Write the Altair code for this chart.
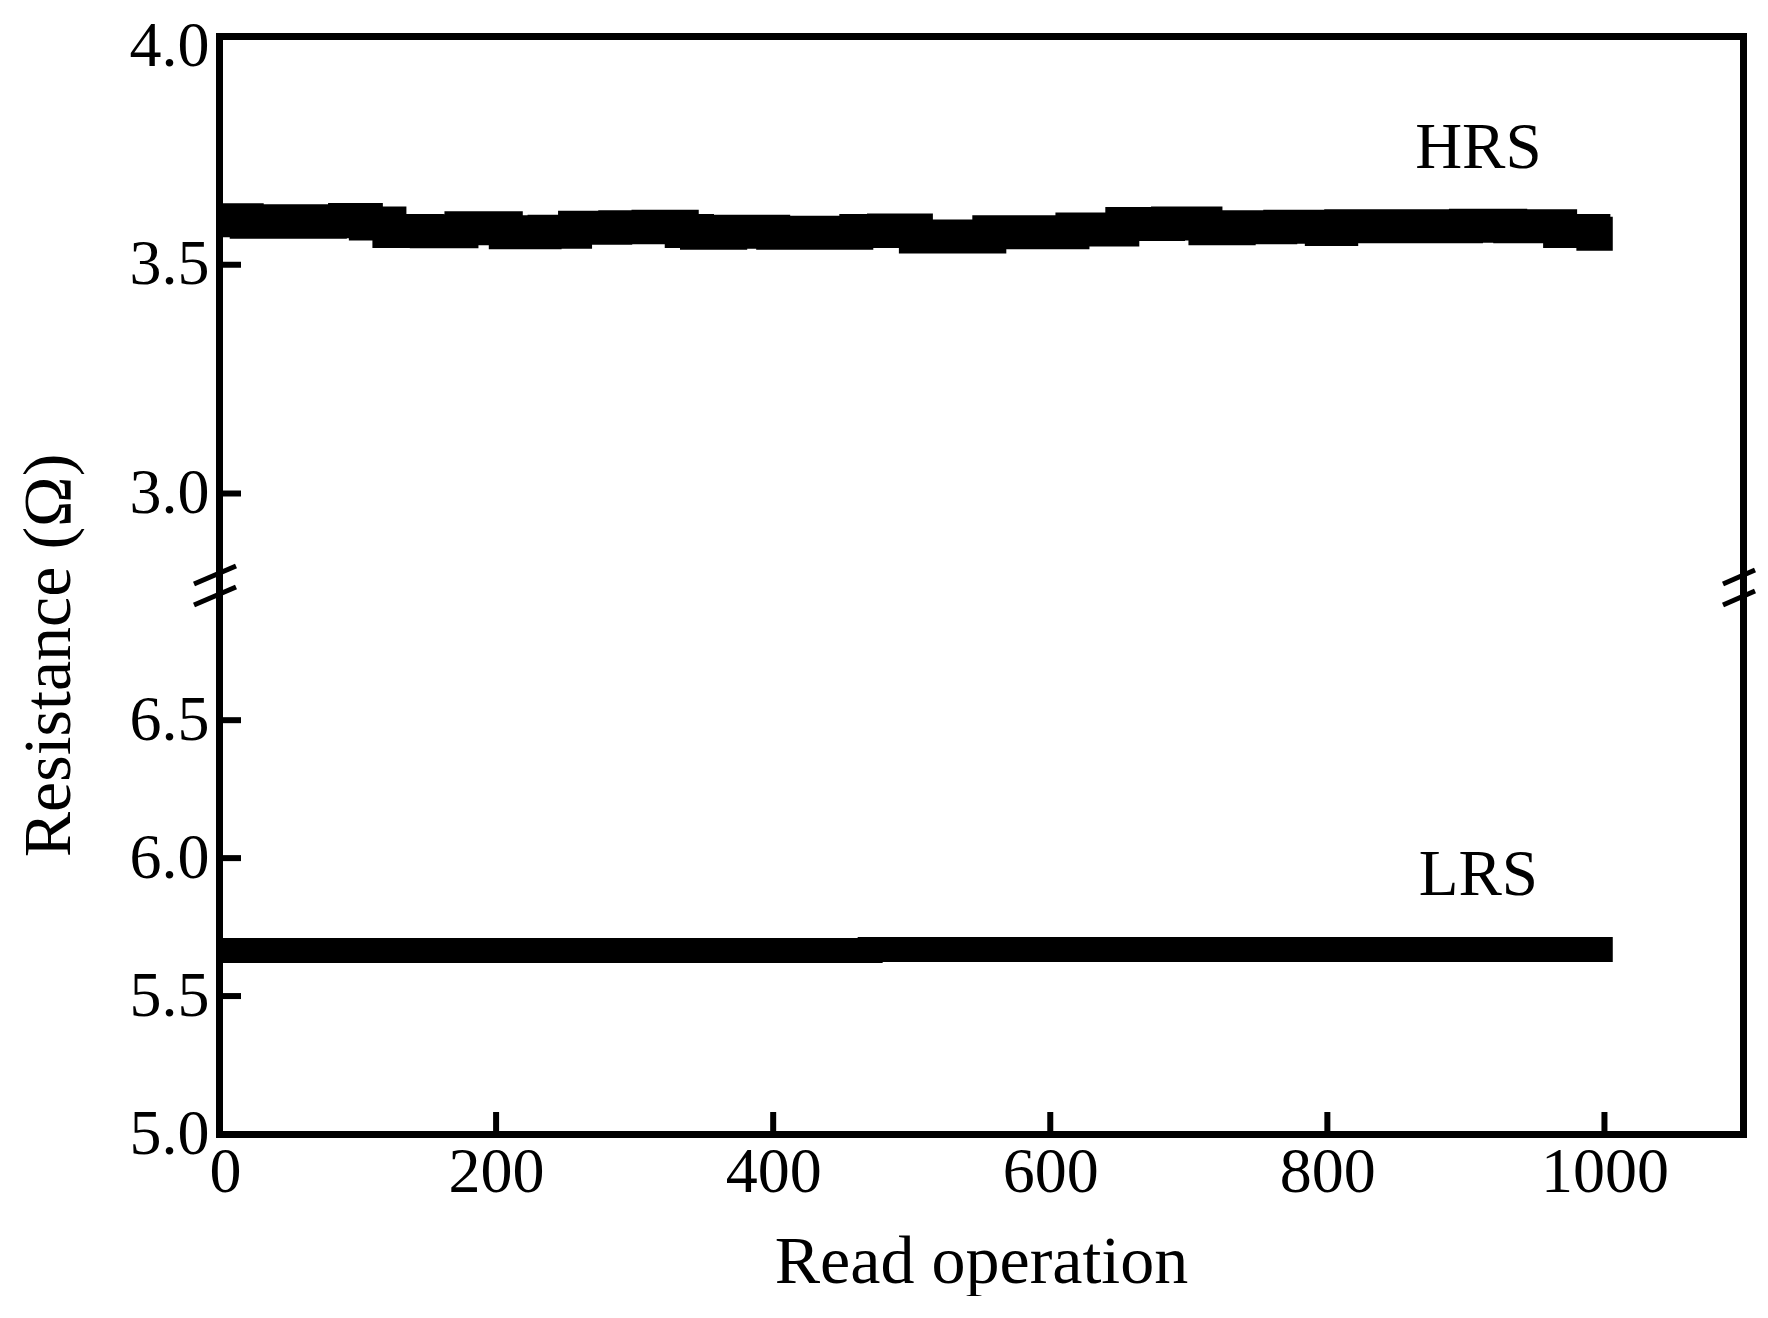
import altair as alt
import pandas as pd

# ---------------- data ----------------
hrs_ops = [0, 20, 40, 60, 80, 91, 106, 123, 150, 175, 207, 235, 257, 286, 310,
           334, 345, 369, 400, 430, 460, 480, 503, 530, 556, 585, 616, 652, 685,
           712, 736, 766, 796, 810, 840, 872, 900, 932, 968, 992, 1006]
hrs_vals = [3.597, 3.594, 3.595, 3.594, 3.595, 3.598, 3.590, 3.574, 3.573, 3.580,
            3.571, 3.572, 3.581, 3.582, 3.583, 3.574, 3.570, 3.572, 3.570, 3.570,
            3.574, 3.575, 3.562, 3.562, 3.571, 3.571, 3.577, 3.589, 3.590, 3.580,
            3.582, 3.583, 3.578, 3.584, 3.584, 3.584, 3.585, 3.584, 3.574, 3.568,
            3.568]

lrs_ops = [0, 470, 1006]
lrs_vals = [5.665, 5.669, 5.669]

state_names = ["HRS", "LRS"]
state_ops = [909, 909]
state_vals = [3.755, 5.938]

x_labels = [0, 200, 400, 600, 800, 1000]
x_inner_ticks = [200, 400, 600, 800, 1000]
y_top_labels = [3.0, 3.5, 4.0]
y_top_inner_ticks = [3.0, 3.5]
y_bot_labels = [5.0, 5.5, 6.0, 6.5]
y_bot_inner_ticks = [5.5, 6.0, 6.5]

# ---------------- layout / style ----------------
W = 1524
H_TOP = 549
H_BOT = 549
FONT = "Liberation Serif"
FRAME_W = 7

x_scale = alt.Scale(domain=[0, 1100], nice=False, zero=False)
y_top_scale = alt.Scale(domain=[2.80, 4.0], nice=False, zero=False)
y_bot_scale = alt.Scale(domain=[5.0, 6.99], nice=False, zero=False)

frame = dict(domain=True, domainColor="black", domainWidth=FRAME_W, domainCap="square",
             ticks=False, tickSize=0, grid=False)
ylab = dict(labelFont=FONT, labelFontSize=64, labelColor="black",
            labelFlush=False, labelOverlap=False, labelPadding=10)

top_x_axis = alt.Axis(orient="top", labels=False, title=None, **frame)
bot_x_axis = alt.Axis(orient="bottom", values=x_labels, format="d",
                      labelFont=FONT, labelFontSize=64, labelColor="black",
                      labelFlush=False, labelOverlap=False, labelPadding=6,
                      labelOffset={"condition": {"test": "datum.value == 0", "value": 6},
                                   "value": 0},
                      title="Read operation", titleFont=FONT, titleFontSize=68,
                      titleFontWeight="normal", titleColor="black", titlePadding=24,
                      **frame)

hrs_df = pd.DataFrame({"op": hrs_ops, "r": hrs_vals})
lrs_df = pd.DataFrame({"op": lrs_ops, "r": lrs_vals})
txt_top = pd.DataFrame({"op": state_ops[:1], "r": state_vals[:1], "s": state_names[:1]})
txt_bot = pd.DataFrame({"op": state_ops[1:], "r": state_vals[1:], "s": state_names[1:]})


def slash(x1, x2, y1, y2):
    return alt.Chart(alt.Data(values=[{"k": 1}])).mark_rule(
        color="black", strokeWidth=5).encode(
        x=alt.value(x1), x2=alt.value(x2), y=alt.value(y1), y2=alt.value(y2))


# ---------------- top panel (HRS) ----------------
top_line = alt.Chart(hrs_df).mark_line(
    color="black", strokeWidth=34, interpolate="step-after", strokeCap="butt").encode(
    x=alt.X("op:Q", scale=x_scale, axis=top_x_axis),
    y=alt.Y("r:Q", scale=y_top_scale,
            axis=alt.Axis(orient="left", values=y_top_labels, format=".1f",
                          labelOffset={"condition": {"test": "datum.value >= 3.99",
                                                     "value": 10}, "value": 0},
                          title=None, **ylab, **frame)),
)
top_right = alt.Chart(hrs_df).mark_line(opacity=0).encode(
    x=alt.X("op:Q", scale=x_scale, axis=top_x_axis),
    y=alt.Y("r:Q", scale=y_top_scale,
            axis=alt.Axis(orient="right", labels=False, title=None, **frame)),
)
top_ticks = alt.Chart(pd.DataFrame({"t": y_top_inner_ticks})).mark_rule(
    color="black", strokeWidth=6).encode(
    y=alt.Y("t:Q", scale=y_top_scale, axis=None),
    x=alt.value(0), x2=alt.value(22))
top_text = alt.Chart(txt_top).mark_text(
    font=FONT, fontSize=65, color="black", align="center", baseline="middle").encode(
    x=alt.X("op:Q", scale=x_scale, axis=top_x_axis),
    y=alt.Y("r:Q", scale=y_top_scale, axis=None),
    text="s:N")

top = alt.layer(top_line, top_right, top_ticks, top_text).resolve_axis(
    y="independent").properties(width=W, height=H_TOP)

# ---------------- bottom panel (LRS) ----------------
bot_line = alt.Chart(lrs_df).mark_line(
    color="black", strokeWidth=25, interpolate="step-after", strokeCap="butt").encode(
    x=alt.X("op:Q", scale=x_scale, axis=bot_x_axis),
    y=alt.Y("r:Q", scale=y_bot_scale,
            axis=alt.Axis(orient="left", values=y_bot_labels, format=".1f",
                          title="Resistance (Ω)",
                          titleFont=FONT, titleFontSize=68, titleFontWeight="normal",
                          titleColor="black", titleX=-170, titleY=70, titleAngle=270,
                          titleAlign="center", titleBaseline="middle",
                          **ylab, **frame)),
)
bot_right = alt.Chart(lrs_df).mark_line(opacity=0).encode(
    x=alt.X("op:Q", scale=x_scale, axis=bot_x_axis),
    y=alt.Y("r:Q", scale=y_bot_scale,
            axis=alt.Axis(orient="right", labels=False, title=None, **frame)),
)
bot_yticks = alt.Chart(pd.DataFrame({"t": y_bot_inner_ticks})).mark_rule(
    color="black", strokeWidth=6).encode(
    y=alt.Y("t:Q", scale=y_bot_scale, axis=None),
    x=alt.value(0), x2=alt.value(22))
bot_xticks = alt.Chart(pd.DataFrame({"t": x_inner_ticks})).mark_rule(
    color="black", strokeWidth=6).encode(
    x=alt.X("t:Q", scale=x_scale, axis=bot_x_axis),
    y=alt.value(H_BOT), y2=alt.value(H_BOT - 22))
bot_text = alt.Chart(txt_bot).mark_text(
    font=FONT, fontSize=65, color="black", align="center", baseline="middle").encode(
    x=alt.X("op:Q", scale=x_scale, axis=bot_x_axis),
    y=alt.Y("r:Q", scale=y_bot_scale, axis=None),
    text="s:N")

# axis-break marks
breaks = [
    slash(-25, 17, -1, -19), slash(-25, 17, 20, 2),
    slash(W - 20, W + 12, -1, -15), slash(W - 20, W + 12, 20, 6),
]

bottom = alt.layer(bot_line, bot_right, bot_yticks, bot_xticks, bot_text,
                   *breaks).resolve_axis(y="independent").properties(
    width=W, height=H_BOT)

chart = alt.vconcat(top, bottom, spacing=0, bounds="flush").properties(
    padding={"top": 6, "left": 6, "right": 0, "bottom": 0},
    background="white",
).configure_view(stroke=None)

chart.save("out.html", embed_options={"renderer": "svg", "actions": False})
